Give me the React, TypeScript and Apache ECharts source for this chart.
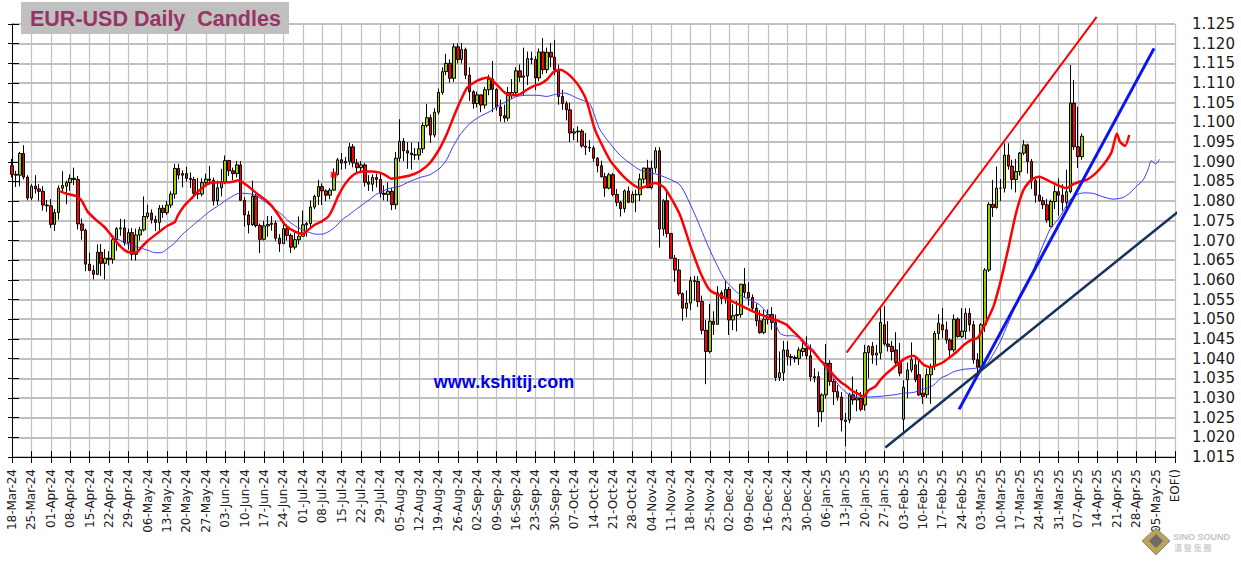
import React, { useEffect, useRef } from "react";
import * as echarts from "echarts";

// Weekly tick labels (every 5 trading-day slots), last one is EOF()
const weekLabels = [
  "18-Mar-24", "25-Mar-24", "01-Apr-24", "08-Apr-24", "15-Apr-24", "22-Apr-24", "29-Apr-24",
  "06-May-24", "13-May-24", "20-May-24", "27-May-24", "03-Jun-24", "10-Jun-24", "17-Jun-24",
  "24-Jun-24", "01-Jul-24", "08-Jul-24", "15-Jul-24", "22-Jul-24", "29-Jul-24", "05-Aug-24",
  "12-Aug-24", "19-Aug-24", "26-Aug-24", "02-Sep-24", "09-Sep-24", "16-Sep-24", "23-Sep-24",
  "30-Sep-24", "07-Oct-24", "14-Oct-24", "21-Oct-24", "28-Oct-24", "04-Nov-24", "11-Nov-24",
  "18-Nov-24", "25-Nov-24", "02-Dec-24", "09-Dec-24", "16-Dec-24", "23-Dec-24", "30-Dec-24",
  "06-Jan-25", "13-Jan-25", "20-Jan-25", "27-Jan-25", "03-Feb-25", "10-Feb-25", "17-Feb-25",
  "24-Feb-25", "03-Mar-25", "10-Mar-25", "17-Mar-25", "24-Mar-25", "31-Mar-25", "07-Apr-25",
  "14-Apr-25", "21-Apr-25", "28-Apr-25", "05-May-25", "EOF()",
];

// Daily candles, one row per week (Mon..Fri)
const opens = [
  1.0890, 1.0868, 1.0866, 1.0921, 1.0861,
  1.0808, 1.0838, 1.0831, 1.0825, 1.0790,
  1.0788, 1.0741, 1.0771, 1.0833, 1.0838,
  1.0847, 1.0858, 1.0855, 1.0742, 1.0726,
  1.0640, 1.0624, 1.0614, 1.0670, 1.0642,
  1.0655, 1.0652, 1.0702, 1.0730, 1.0732,
  1.0694, 1.0720, 1.0665, 1.0714, 1.0727,
  1.0761, 1.0770, 1.0753, 1.0746, 1.0782,
  1.0771, 1.0790, 1.0818, 1.0883, 1.0866,
  1.0870, 1.0858, 1.0855, 1.0820, 1.0818,
  1.0847, 1.0856, 1.0853, 1.0801, 1.0834,
  1.0848, 1.0903, 1.0877, 1.0870, 1.0892,
  1.0802, 1.0765, 1.0740, 1.0813, 1.0738,
  1.0703, 1.0737, 1.0741, 1.0744, 1.0706,
  1.0692, 1.0730, 1.0713, 1.0683, 1.0702,
  1.0711, 1.0740, 1.0743, 1.0785, 1.0812,
  1.0837, 1.0826, 1.0815, 1.0828, 1.0868,
  1.0905, 1.0897, 1.0901, 1.0938, 1.0897,
  1.0885, 1.0892, 1.0848, 1.0843, 1.0860,
  1.0855, 1.0820, 1.0817, 1.0825, 1.0791,
  1.0909, 1.0952, 1.0928, 1.0922, 1.0918,
  1.0917, 1.0933, 1.0992, 1.1012, 1.0968,
  1.1026, 1.1076, 1.1129, 1.1150, 1.1112,
  1.1192, 1.1160, 1.1185, 1.1120, 1.1078,
  1.1048, 1.1070, 1.1044, 1.1083, 1.1110,
  1.1084, 1.1039, 1.1017, 1.1011, 1.1070,
  1.1076, 1.1131, 1.1115, 1.1118, 1.1162,
  1.1160, 1.1113, 1.1179, 1.1134, 1.1178,
  1.1166, 1.1134, 1.1066, 1.1048, 1.1032,
  1.0973, 1.0976, 1.0978, 1.0940, 1.0937,
  1.0935, 1.0909, 1.0890, 1.0862, 1.0833,
  1.0867, 1.0817, 1.0797, 1.0781, 1.0826,
  1.0797, 1.0817, 1.0816, 1.0856, 1.0884,
  1.0834, 1.0884, 1.0928, 1.0729, 1.0801,
  1.0718, 1.0655, 1.0625, 1.0565, 1.0528,
  1.0541, 1.0598, 1.0596, 1.0545, 1.0472,
  1.0418, 1.0495, 1.0487, 1.0567, 1.0553,
  1.0576, 1.0498, 1.0509, 1.0512, 1.0589,
  1.0568, 1.0555, 1.0528, 1.0496, 1.0466,
  1.0500, 1.0512, 1.0492, 1.0352, 1.0364,
  1.0422, 1.0405, 1.0403, 1.0400, 1.0418,
  1.0426, 1.0407, 1.0354, 1.0354, 1.0265,
  1.0308, 1.0388, 1.0342, 1.0316, 1.0302,
  1.0240, 1.0244, 1.0308, 1.0295, 1.0299,
  1.0282, 1.0415, 1.0431, 1.0409, 1.0414,
  1.0486, 1.0437, 1.0431, 1.0422, 1.0390,
  1.0246, 1.0346, 1.0371, 1.0384, 1.0359,
  1.0312, 1.0308, 1.0359, 1.0380, 1.0464,
  1.0486, 1.0473, 1.0447, 1.0422, 1.0500,
  1.0456, 1.0469, 1.0515, 1.0486, 1.0397,
  1.0378, 1.0486, 1.0625, 1.0792, 1.0784,
  1.0833, 1.0833, 1.0917, 1.0889, 1.0855,
  1.0875, 1.0922, 1.0943, 1.0901, 1.0852,
  1.0815, 1.0801, 1.0791, 1.0735, 1.0799,
  1.0824, 1.0815, 1.0797, 1.0824, 1.1049,
  1.0938, 1.0913,
];
const highs = [
  1.0907, 1.0877, 1.0925, 1.0942, 1.0866,
  1.0843, 1.0866, 1.0843, 1.0838, 1.0803,
  1.0805, 1.0780, 1.0840, 1.0876, 1.0852,
  1.0868, 1.0885, 1.0864, 1.0756, 1.0730,
  1.0669, 1.0637, 1.0690, 1.0691, 1.0678,
  1.0673, 1.0713, 1.0734, 1.0755, 1.0754,
  1.0730, 1.0732, 1.0730, 1.0735, 1.0812,
  1.0791, 1.0779, 1.0763, 1.0790, 1.0790,
  1.0800, 1.0825, 1.0895, 1.0895, 1.0878,
  1.0887, 1.0873, 1.0862, 1.0859, 1.0858,
  1.0870, 1.0889, 1.0860, 1.0852, 1.0882,
  1.0916, 1.0905, 1.0885, 1.0902, 1.0902,
  1.0810, 1.0775, 1.0852, 1.0818, 1.0743,
  1.0750, 1.0762, 1.0762, 1.0751, 1.0716,
  1.0747, 1.0741, 1.0718, 1.0721, 1.0761,
  1.0776, 1.0747, 1.0802, 1.0816, 1.0854,
  1.0845, 1.0830, 1.0833, 1.0883, 1.0910,
  1.0922, 1.0912, 1.0948, 1.0945, 1.0907,
  1.0902, 1.0897, 1.0866, 1.0868, 1.0870,
  1.0870, 1.0840, 1.0848, 1.0833, 1.0925,
  1.1008, 1.0960, 1.0950, 1.0949, 1.0935,
  1.0950, 1.1000, 1.1047, 1.1020, 1.1036,
  1.1086, 1.1140, 1.1174, 1.1160, 1.1201,
  1.1201, 1.1202, 1.1190, 1.1140, 1.1082,
  1.1078, 1.1070, 1.1090, 1.1121, 1.1156,
  1.1087, 1.1058, 1.1045, 1.1090, 1.1110,
  1.1140, 1.1147, 1.1190, 1.1180, 1.1180,
  1.1168, 1.1188, 1.1214, 1.1190, 1.1202,
  1.1209, 1.1147, 1.1083, 1.1054, 1.1050,
  1.0985, 1.0990, 1.0983, 1.0973, 1.0955,
  1.0940, 1.0912, 1.0903, 1.0872, 1.0872,
  1.0871, 1.0831, 1.0801, 1.0830, 1.0837,
  1.0825, 1.0829, 1.0870, 1.0885, 1.0905,
  1.0903, 1.0937, 1.0937, 1.0805, 1.0827,
  1.0718, 1.0663, 1.0653, 1.0568, 1.0573,
  1.0608, 1.0610, 1.0609, 1.0560, 1.0498,
  1.0539, 1.0520, 1.0584, 1.0573, 1.0597,
  1.0582, 1.0538, 1.0546, 1.0590, 1.0630,
  1.0594, 1.0563, 1.0540, 1.0523, 1.0524,
  1.0525, 1.0531, 1.0512, 1.0418, 1.0445,
  1.0444, 1.0412, 1.0408, 1.0429, 1.0440,
  1.0457, 1.0436, 1.0375, 1.0367, 1.0312,
  1.0437, 1.0396, 1.0348, 1.0333, 1.0315,
  1.0262, 1.0313, 1.0354, 1.0322, 1.0315,
  1.0435, 1.0434, 1.0442, 1.0435, 1.0532,
  1.0533, 1.0495, 1.0445, 1.0467, 1.0440,
  1.0345, 1.0390, 1.0441, 1.0406, 1.0400,
  1.0350, 1.0375, 1.0387, 1.0470, 1.0513,
  1.0528, 1.0494, 1.0451, 1.0512, 1.0505,
  1.0528, 1.0528, 1.0528, 1.0496, 1.0414,
  1.0490, 1.0630, 1.0797, 1.0854, 1.0888,
  1.0856, 1.0947, 1.0947, 1.0905, 1.0907,
  1.0925, 1.0955, 1.0946, 1.0907, 1.0860,
  1.0858, 1.0811, 1.0805, 1.0804, 1.0840,
  1.0858, 1.0843, 1.0880, 1.1146, 1.1108,
  1.1040, 1.0972,
];
const lows = [
  1.0860, 1.0836, 1.0838, 1.0855, 1.0802,
  1.0802, 1.0819, 1.0801, 1.0776, 1.0773,
  1.0732, 1.0724, 1.0753, 1.0823, 1.0792,
  1.0826, 1.0841, 1.0728, 1.0702, 1.0622,
  1.0622, 1.0601, 1.0612, 1.0610, 1.0601,
  1.0637, 1.0641, 1.0674, 1.0712, 1.0687,
  1.0677, 1.0650, 1.0649, 1.0700, 1.0723,
  1.0755, 1.0743, 1.0724, 1.0725, 1.0758,
  1.0765, 1.0783, 1.0806, 1.0855, 1.0835,
  1.0850, 1.0833, 1.0815, 1.0805, 1.0812,
  1.0840, 1.0842, 1.0789, 1.0790, 1.0812,
  1.0843, 1.0864, 1.0854, 1.0860, 1.0801,
  1.0735, 1.0718, 1.0737, 1.0733, 1.0668,
  1.0700, 1.0710, 1.0725, 1.0699, 1.0671,
  1.0692, 1.0700, 1.0668, 1.0677, 1.0690,
  1.0710, 1.0710, 1.0733, 1.0780, 1.0790,
  1.0790, 1.0800, 1.0805, 1.0826, 1.0865,
  1.0880, 1.0882, 1.0892, 1.0886, 1.0870,
  1.0875, 1.0837, 1.0826, 1.0825, 1.0835,
  1.0809, 1.0802, 1.0800, 1.0777, 1.0779,
  1.0900, 1.0902, 1.0882, 1.0880, 1.0905,
  1.0905, 1.0922, 1.0987, 1.0948, 1.0962,
  1.1020, 1.1070, 1.1120, 1.1101, 1.1103,
  1.1150, 1.1150, 1.1110, 1.1055, 1.1035,
  1.1038, 1.1026, 1.1035, 1.1069, 1.1026,
  1.1030, 1.1002, 1.1000, 1.1003, 1.1060,
  1.1070, 1.1103, 1.1069, 1.1095, 1.1148,
  1.1082, 1.1105, 1.1122, 1.1125, 1.1140,
  1.1120, 1.1045, 1.1032, 1.1005, 1.0950,
  1.0955, 1.0950, 1.0936, 1.0917, 1.0925,
  1.0900, 1.0873, 1.0860, 1.0811, 1.0830,
  1.0812, 1.0787, 1.0761, 1.0771, 1.0795,
  1.0797, 1.0772, 1.0800, 1.0845, 1.0835,
  1.0830, 1.0872, 1.0682, 1.0712, 1.0708,
  1.0653, 1.0595, 1.0560, 1.0496, 1.0505,
  1.0523, 1.0547, 1.0531, 1.0462, 1.0335,
  1.0413, 1.0460, 1.0486, 1.0538, 1.0540,
  1.0460, 1.0472, 1.0469, 1.0504, 1.0555,
  1.0535, 1.0520, 1.0482, 1.0463, 1.0462,
  1.0487, 1.0473, 1.0343, 1.0343, 1.0343,
  1.0383, 1.0382, 1.0390, 1.0384, 1.0406,
  1.0398, 1.0342, 1.0340, 1.0226, 1.0239,
  1.0298, 1.0331, 1.0282, 1.0293, 1.0215,
  1.0177, 1.0236, 1.0283, 1.0266, 1.0266,
  1.0268, 1.0350, 1.0387, 1.0383, 1.0398,
  1.0433, 1.0418, 1.0395, 1.0383, 1.0355,
  1.0214, 1.0300, 1.0365, 1.0340, 1.0305,
  1.0285, 1.0300, 1.0285, 1.0371, 1.0448,
  1.0452, 1.0438, 1.0400, 1.0416, 1.0453,
  1.0452, 1.0450, 1.0469, 1.0387, 1.0358,
  1.0375, 1.0468, 1.0620, 1.0760, 1.0781,
  1.0800, 1.0822, 1.0880, 1.0830, 1.0822,
  1.0865, 1.0917, 1.0870, 1.0831, 1.0796,
  1.0798, 1.0780, 1.0745, 1.0735, 1.0780,
  1.0763, 1.0776, 1.0771, 1.0820, 1.0930,
  1.0884, 1.0905,
];
const closes = [
  1.0868, 1.0866, 1.0921, 1.0861, 1.0808,
  1.0838, 1.0831, 1.0825, 1.0790, 1.0788,
  1.0741, 1.0771, 1.0833, 1.0840, 1.0847,
  1.0858, 1.0855, 1.0742, 1.0726, 1.0640,
  1.0624, 1.0614, 1.0670, 1.0642, 1.0655,
  1.0652, 1.0702, 1.0730, 1.0732, 1.0694,
  1.0720, 1.0665, 1.0714, 1.0727, 1.0761,
  1.0770, 1.0753, 1.0746, 1.0782, 1.0771,
  1.0790, 1.0818, 1.0883, 1.0866, 1.0870,
  1.0858, 1.0855, 1.0820, 1.0818, 1.0847,
  1.0856, 1.0853, 1.0801, 1.0834, 1.0848,
  1.0903, 1.0877, 1.0870, 1.0892, 1.0802,
  1.0765, 1.0740, 1.0813, 1.0738, 1.0703,
  1.0737, 1.0741, 1.0744, 1.0706, 1.0692,
  1.0730, 1.0713, 1.0683, 1.0702, 1.0711,
  1.0740, 1.0743, 1.0785, 1.0812, 1.0837,
  1.0826, 1.0815, 1.0828, 1.0868, 1.0905,
  1.0897, 1.0901, 1.0938, 1.0897, 1.0885,
  1.0892, 1.0848, 1.0843, 1.0860, 1.0855,
  1.0820, 1.0817, 1.0825, 1.0791, 1.0909,
  1.0952, 1.0928, 1.0922, 1.0918, 1.0917,
  1.0933, 1.0992, 1.1012, 1.0968, 1.1026,
  1.1076, 1.1129, 1.1150, 1.1112, 1.1192,
  1.1160, 1.1185, 1.1120, 1.1078, 1.1048,
  1.1070, 1.1044, 1.1083, 1.1110, 1.1084,
  1.1039, 1.1017, 1.1011, 1.1076, 1.1076,
  1.1131, 1.1115, 1.1118, 1.1162, 1.1160,
  1.1113, 1.1179, 1.1134, 1.1178, 1.1166,
  1.1134, 1.1066, 1.1048, 1.1032, 1.0973,
  1.0976, 1.0978, 1.0940, 1.0937, 1.0935,
  1.0909, 1.0890, 1.0862, 1.0833, 1.0867,
  1.0817, 1.0797, 1.0781, 1.0826, 1.0797,
  1.0817, 1.0816, 1.0856, 1.0884, 1.0834,
  1.0884, 1.0928, 1.0729, 1.0801, 1.0718,
  1.0655, 1.0625, 1.0565, 1.0528, 1.0541,
  1.0598, 1.0596, 1.0545, 1.0472, 1.0418,
  1.0495, 1.0487, 1.0567, 1.0553, 1.0576,
  1.0498, 1.0509, 1.0512, 1.0589, 1.0568,
  1.0555, 1.0528, 1.0496, 1.0466, 1.0500,
  1.0512, 1.0492, 1.0352, 1.0364, 1.0422,
  1.0405, 1.0403, 1.0400, 1.0422, 1.0426,
  1.0407, 1.0354, 1.0351, 1.0265, 1.0308,
  1.0388, 1.0342, 1.0316, 1.0302, 1.0244,
  1.0244, 1.0308, 1.0295, 1.0300, 1.0271,
  1.0415, 1.0431, 1.0409, 1.0414, 1.0492,
  1.0437, 1.0431, 1.0418, 1.0390, 1.0363,
  1.0327, 1.0371, 1.0397, 1.0346, 1.0308,
  1.0304, 1.0359, 1.0380, 1.0464, 1.0490,
  1.0473, 1.0447, 1.0422, 1.0500, 1.0456,
  1.0470, 1.0515, 1.0486, 1.0397, 1.0378,
  1.0486, 1.0625, 1.0792, 1.0784, 1.0833,
  1.0833, 1.0917, 1.0889, 1.0855, 1.0875,
  1.0922, 1.0943, 1.0901, 1.0852, 1.0815,
  1.0801, 1.0791, 1.0752, 1.0799, 1.0824,
  1.0815, 1.0797, 1.0824, 1.1049, 1.0938,
  1.0913, 1.0965,
];

// Displaced moving averages: [slot, price]
const redMA = [
  [12, 1.0826], [14, 1.0819], [16.6, 1.0813], [17.9, 1.0802], [19.6, 1.0772], [21.8, 1.0751],
  [23.9, 1.0734], [25.6, 1.0713], [27.3, 1.0692], [29.1, 1.0675], [30.8, 1.0669], [32.1, 1.0669],
  [33.4, 1.0683], [35.1, 1.07], [36.8, 1.0713], [38.5, 1.0726], [40.2, 1.0738], [42, 1.0747],
  [42.8, 1.0764], [44.5, 1.0789], [46.2, 1.0806], [48.4, 1.0828], [51, 1.0846], [53.6, 1.0848],
  [56.1, 1.0848], [58.6, 1.0853], [60.3, 1.0842], [62, 1.0829], [63.6, 1.0816], [65.4, 1.0803],
  [67, 1.0788], [68.7, 1.0765], [70.4, 1.074], [72.2, 1.0727], [73.9, 1.0719], [75.1, 1.0717],
  [76.4, 1.0727], [78.1, 1.074], [79.8, 1.0748], [81.6, 1.0761], [82.8, 1.0782], [84.1, 1.0812],
  [85.8, 1.0842], [87.6, 1.0863], [89.3, 1.0873], [91, 1.0875], [92.8, 1.0875], [94.5, 1.0873],
  [96.2, 1.0867], [97.9, 1.0857], [100.1, 1.086], [102.6, 1.0865], [105.2, 1.0876], [107.8, 1.0897],
  [110.4, 1.0935], [112.1, 1.0969], [113.8, 1.1011], [115.6, 1.1053], [117.3, 1.1087], [119, 1.11],
  [120.7, 1.1109], [122.9, 1.1114], [124.2, 1.1104], [125.9, 1.1087], [127.6, 1.1072], [129.4, 1.1069],
  [131.1, 1.1072], [132.8, 1.1083], [134.5, 1.1092], [136.3, 1.1098], [138, 1.1109], [139.7, 1.1128],
  [141.4, 1.1134], [143.2, 1.1125], [144.9, 1.1109], [146.6, 1.1087], [148.3, 1.1053], [150.4, 1.0981],
  [154.2, 1.0905], [158.1, 1.0859], [162, 1.0833], [165.9, 1.0846], [168.4, 1.0833], [172.3, 1.0765],
  [174.9, 1.0689], [177.5, 1.062], [180, 1.0574], [183.9, 1.0554], [187.8, 1.0536], [191.6, 1.0518],
  [195.5, 1.0503], [198.1, 1.0494], [199.8, 1.0486], [201.5, 1.0469], [203.3, 1.0452], [205, 1.0431],
  [206.7, 1.0418], [208.4, 1.0397], [210.2, 1.038], [211.9, 1.0358], [213.6, 1.0342], [215.4, 1.0329],
  [217.1, 1.0316], [218.8, 1.0308], [219.7, 1.0303], [221, 1.032], [222.7, 1.0329], [224, 1.0346],
  [225.7, 1.0363], [227.5, 1.0378], [229.2, 1.0392], [230.9, 1.0403], [232.6, 1.0407], [233.5, 1.0401],
  [235.2, 1.0384], [236.9, 1.0378], [238.7, 1.0384], [240.4, 1.0392], [242.1, 1.0405], [243.8, 1.0418],
  [245.6, 1.0435], [247.3, 1.0447], [249, 1.0452], [250.3, 1.0473], [251.6, 1.0498], [253.3, 1.0536],
  [255.1, 1.06], [257, 1.068], [259, 1.077], [261, 1.083], [263, 1.0855], [265, 1.0862],
  [267.7, 1.085], [270.3, 1.0838], [272, 1.0833], [273.8, 1.0843], [275.5, 1.085], [277.2, 1.0854],
  [279, 1.0866], [280.7, 1.0883], [282.4, 1.0904], [283.7, 1.0926], [285, 1.0972], [285.8, 1.0951],
  [287.1, 1.094], [288.2, 1.0968],
];
const blueMA = [
  [19.6, 1.0776], [21.3, 1.0759], [23, 1.074], [24.8, 1.0721], [26.5, 1.0709], [28.3, 1.0698],
  [30, 1.069], [31.7, 1.0685], [33.4, 1.068], [35.1, 1.0675], [36.8, 1.0669], [38.5, 1.0669],
  [40.2, 1.068], [42, 1.0694], [43.7, 1.0713], [45.4, 1.0728], [47.2, 1.0743], [48.9, 1.0757],
  [51, 1.0774], [53.6, 1.0791], [56.1, 1.0808], [58.6, 1.082], [61.2, 1.0819], [62.9, 1.0814],
  [64.6, 1.0803], [66.3, 1.0791], [68, 1.0778], [69.7, 1.0765], [71.5, 1.0748], [73.2, 1.0736],
  [74.9, 1.0727], [76.6, 1.0721], [78.3, 1.0716], [80, 1.0716], [81.8, 1.0723], [83.5, 1.0736],
  [85.2, 1.0753], [86.9, 1.0765], [88.6, 1.0778], [90.4, 1.0791], [92.1, 1.0803], [93.8, 1.0816],
  [95.5, 1.0825], [97.2, 1.0832], [100.1, 1.0838], [102.6, 1.085], [105.2, 1.086], [107.8, 1.0867],
  [110.4, 1.0884], [112.1, 1.0905], [113.8, 1.0939], [115.6, 1.0969], [118.2, 1.0998], [120.7, 1.1015],
  [123.3, 1.1028], [125.9, 1.1045], [128.5, 1.1058], [130.2, 1.1066], [132.8, 1.1069], [135.4, 1.1069],
  [138, 1.1066], [139.7, 1.107], [142.3, 1.1075], [144, 1.107], [145.7, 1.1062], [147.5, 1.1055],
  [149.2, 1.1045], [151.7, 1.0981], [156.8, 1.0917], [162, 1.0879], [167.1, 1.0866], [172.3, 1.0841],
  [176.2, 1.0765], [180, 1.0676], [183.9, 1.06], [187.8, 1.0562], [192.9, 1.0536], [196.8, 1.049],
  [198.1, 1.0464], [199.8, 1.0458], [201.5, 1.0458], [203.3, 1.0452], [205, 1.0439], [206.7, 1.0422],
  [208.4, 1.0397], [210.2, 1.0371], [211.9, 1.035], [213.6, 1.0329], [215.4, 1.0312], [217.1, 1.0303],
  [219.7, 1.0302], [222.3, 1.0303], [224.9, 1.0305], [227.5, 1.0308], [230, 1.0312], [232.6, 1.0314],
  [234.3, 1.032], [236.1, 1.0325], [237.8, 1.0333], [239.5, 1.035], [241.3, 1.0358], [243, 1.0367],
  [245.6, 1.0373], [248.1, 1.0375], [249.8, 1.0378], [251.6, 1.0388], [253.3, 1.0414], [255.1, 1.0447],
  [257.7, 1.0507], [260.3, 1.0566], [262.5, 1.06], [265, 1.0665], [267.7, 1.0727], [270.3, 1.076],
  [272.9, 1.0803], [274.6, 1.0816], [276.3, 1.0821], [278.8, 1.082], [281.4, 1.0811], [284, 1.0805],
  [286.6, 1.0809], [288.3, 1.082], [290, 1.0837], [291.8, 1.0854], [293, 1.0879], [293.9, 1.0903],
  [295, 1.0894], [296, 1.0906],
];

// Hand-drawn trend lines: [slot, price] end points
const redTrend = [[215.3, 1.0415], [279.8, 1.1268]];
const blueTrend = [[244.3, 1.0271], [294.6, 1.1188]];
const navyTrend = [[225.3, 1.0174], [301.9, 1.0782]];
const signalMark = [[83, 1.0867]];

const X_MIN = 0;
const X_MAX = 300;
const X_STEP = 5;
const Y_MIN = 1.015;
const Y_MAX = 1.125;
const Y_STEP = 0.005;

export default function App() {
  const ref = useRef<HTMLDivElement>(null);
  useEffect(() => {
    const chart = echarts.init(ref.current as HTMLDivElement, null, { renderer: "svg" });
    const candleData = opens.map((o, i) => [i, o, closes[i], lows[i], highs[i]]);
    chart.setOption({
      animation: false,
      backgroundColor: "#ffffff",
      grid: { left: 12, right: 66, top: 24, bottom: 107, containLabel: false },
      xAxis: [
        {
          type: "value",
          min: X_MIN,
          max: X_MAX,
          interval: X_STEP,
          axisLine: { show: true, lineStyle: { color: "#000", width: 1 } },
          axisTick: { show: true, length: 6, lineStyle: { color: "#000" } },
          splitLine: { show: true, lineStyle: { color: "#c0c0c0", width: 1.2 } },
          axisLabel: {
            rotate: 90,
            margin: 12,
            color: "#1a1a1a",
            fontFamily: "DejaVu Sans",
            fontSize: 12,
            showMinLabel: true,
            showMaxLabel: true,
            formatter: (v: number) => {
              const k = Math.round(v / X_STEP);
              return weekLabels[k] ?? "";
            },
          },
        },
        {
          type: "value",
          position: "bottom",
          min: X_MIN,
          max: X_MAX,
          interval: X_STEP,
          axisLine: { show: false },
          axisTick: { show: true, inside: true, length: 6, lineStyle: { color: "#000" } },
          splitLine: { show: false },
          axisLabel: { show: false },
        },
      ],
      yAxis: [
        {
          type: "value",
          position: "right",
          min: Y_MIN,
          max: Y_MAX,
          interval: Y_STEP,
          axisLine: { show: true, lineStyle: { color: "#000", width: 1 } },
          axisTick: { show: true, length: 7, lineStyle: { color: "#000" } },
          splitLine: { show: true, lineStyle: { color: "#c0c0c0", width: 2 } },
          axisLabel: {
            margin: 17,
            color: "#1a1a1a",
            fontFamily: "DejaVu Sans",
            fontSize: 15,
            formatter: (v: number) => v.toFixed(3),
          },
        },
        {
          type: "value",
          position: "right",
          min: Y_MIN,
          max: Y_MAX,
          interval: Y_STEP,
          axisLine: { show: false },
          axisTick: { show: true, inside: true, length: 4, lineStyle: { color: "#000" } },
          splitLine: { show: false },
          axisLabel: { show: false },
        },
      ],
      series: [
        {
          type: "candlestick",
          data: candleData,
          barWidth: 3,
          z: 2,
          itemStyle: {
            color: "#99cc00",
            color0: "#ff0000",
            borderColor: "#000000",
            borderColor0: "#000000",
            borderWidth: 1,
          },
        },
        {
          type: "line",
          data: blueMA,
          showSymbol: false,
          smooth: 0.2,
          z: 3,
          lineStyle: { color: "#3a3aff", width: 1 },
        },
        {
          type: "line",
          data: redMA,
          showSymbol: false,
          smooth: 0.2,
          z: 4,
          lineStyle: { color: "#ff0000", width: 2.5 },
        },
        {
          type: "line",
          data: redTrend,
          showSymbol: false,
          clip: false,
          z: 5,
          lineStyle: { color: "#ff0000", width: 2 },
        },
        {
          type: "line",
          data: blueTrend,
          showSymbol: false,
          clip: false,
          z: 5,
          lineStyle: { color: "#0a14f0", width: 3 },
        },
        {
          type: "line",
          data: navyTrend,
          showSymbol: false,
          clip: false,
          z: 5,
          lineStyle: { color: "#16325c", width: 2.5 },
        },
        {
          type: "scatter",
          data: signalMark,
          symbol: "rect",
          symbolSize: 6,
          z: 6,
          itemStyle: { color: "#ff0000" },
        },
      ],
      graphic: [
        {
          type: "rect",
          shape: { x: 21, y: 2, width: 268, height: 32 },
          style: { fill: "#c0c0c0" },
          z: 10,
        },
        {
          type: "text",
          x: 30,
          y: 18.5,
          z: 11,
          style: {
            text: "EUR-USD Daily  Candles",
            fill: "#993366",
            font: "bold 21.5px 'Liberation Sans', Arial, sans-serif",
            verticalAlign: "middle",
          },
        },
        {
          type: "text",
          x: 504,
          y: 382,
          z: 11,
          style: {
            text: "www.kshitij.com",
            fill: "#0000ee",
            font: "bold 18px 'Liberation Sans', Arial, sans-serif",
            align: "center",
            verticalAlign: "middle",
          },
        },
        {
          type: "polygon",
          shape: { points: [[1156, 528], [1170, 541], [1156, 555], [1142, 541]] },
          style: { fill: "#b7a35a", stroke: "#8c8c8c", lineWidth: 1 },
          z: 11,
        },
        {
          type: "polygon",
          shape: { points: [[1156, 534], [1163, 541], [1156, 548], [1149, 541]] },
          style: { fill: "#6b6b6b" },
          z: 12,
        },
        {
          type: "text",
          x: 1173,
          y: 537,
          z: 11,
          style: {
            text: "SINO SOUND",
            fill: "#c4c4c4",
            font: "bold 9px 'Liberation Sans', Arial, sans-serif",
            verticalAlign: "middle",
          },
        },
        {
          type: "text",
          x: 1174,
          y: 547,
          z: 11,
          style: {
            text: "漢 聲 集 團",
            fill: "#cfcfcf",
            font: "bold 8px 'Noto Sans CJK TC', sans-serif",
            verticalAlign: "middle",
          },
        },
      ],
    });
    return () => chart.dispose();
  }, []);
  return (
    <div
      ref={ref}
      style={{ position: "fixed", left: 0, top: 0, width: 1241, height: 564, background: "#fff" }}
    />
  );
}
